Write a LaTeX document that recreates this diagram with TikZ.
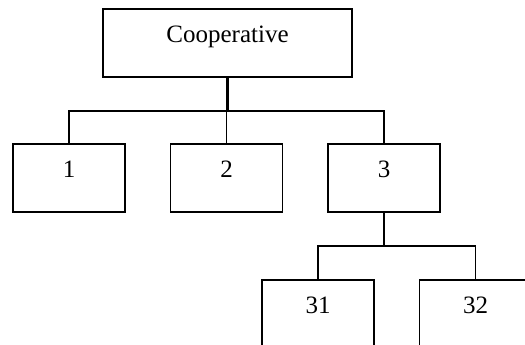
\documentclass[tikz,border=0pt]{standalone}
\usepackage{fontspec}
\setmainfont{Liberation Serif}
\tikzset{
  unit/.style={draw,line width=1.5pt,inner sep=0pt,text height=34pt,text depth=34pt,minimum width=112pt,font=\fontsize{25}{30}\selectfont},
  link/.style={line width=1.4pt},
  trunk/.style={line width=2.6pt}
}
\begin{document}
\begin{tikzpicture}[x=1pt,y=1pt]
\useasboundingbox (0,0) rectangle (525,345);
\clip (0,0) rectangle (525,345);
\node[unit,minimum width=249pt](coop) at (227.5,302){Cooperative};
\node[unit](u1) at (69,167){1};
\node[unit](u2) at (226.5,167){2};
\node[unit](u3) at (384,167){3};
\node[unit](u31) at (318,31){31};
\node[unit](u32) at (475.5,31){32};
\coordinate (busA) at (coop.south |- 0,234);
\coordinate (busB) at (u3.south |- 0,99);
\draw[trunk] (coop.south) -- (busA);
\draw[link] (u1.north) |- (busA) -| (u3.north);
\draw[link] (u2.north) -- (u2.north |- busA);
\draw[trunk] (u3.south) -- (busB);
\draw[link] (u31.north) |- (busB) -| (u32.north);
\end{tikzpicture}
\end{document}
